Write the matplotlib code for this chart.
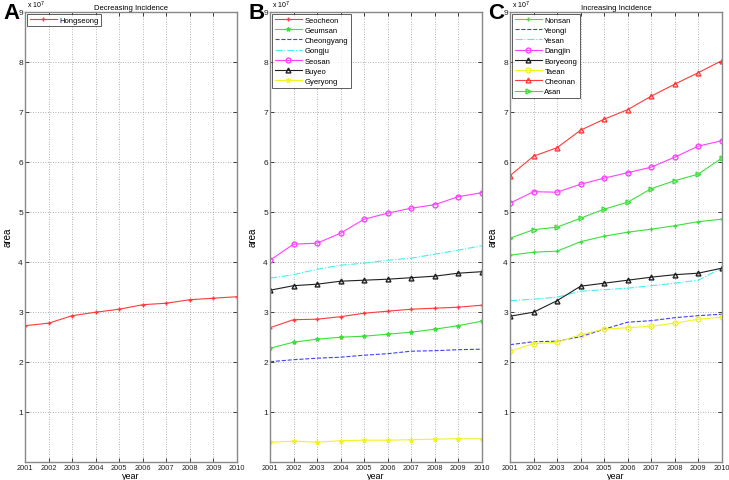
import matplotlib
matplotlib.use("Agg")
import matplotlib.pyplot as plt
import numpy as np

plt.rcParams['font.family'] = ['Liberation Sans', 'DejaVu Sans']

years = [2001, 2002, 2003, 2004, 2005, 2006, 2007, 2008, 2009, 2010]

# values in units of 1e7
hongseong = [2.72, 2.77, 2.92, 2.99, 3.05, 3.14, 3.17, 3.24, 3.27, 3.30]

seocheon = [2.68, 2.84, 2.85, 2.90, 2.97, 3.01, 3.05, 3.07, 3.09, 3.13]
geumsan = [2.27, 2.39, 2.45, 2.49, 2.51, 2.55, 2.59, 2.65, 2.72, 2.81]
cheongyang = [2.00, 2.04, 2.07, 2.09, 2.13, 2.16, 2.21, 2.22, 2.24, 2.25]
gongju = [3.67, 3.74, 3.85, 3.93, 3.97, 4.03, 4.07, 4.15, 4.23, 4.32]
seosan = [4.03, 4.35, 4.37, 4.57, 4.85, 4.97, 5.07, 5.14, 5.30, 5.38]
buyeo = [3.43, 3.52, 3.55, 3.61, 3.63, 3.65, 3.68, 3.71, 3.77, 3.80]
gyeryong = [0.39, 0.41, 0.39, 0.42, 0.43, 0.43, 0.44, 0.45, 0.46, 0.46]

nonsan = [4.13, 4.19, 4.21, 4.40, 4.51, 4.59, 4.65, 4.72, 4.80, 4.85]
yeongi = [2.34, 2.40, 2.41, 2.50, 2.65, 2.79, 2.82, 2.88, 2.92, 2.95]
yesan = [3.22, 3.25, 3.29, 3.41, 3.44, 3.47, 3.52, 3.57, 3.63, 3.87]
dangjin = [5.17, 5.40, 5.39, 5.55, 5.67, 5.78, 5.89, 6.09, 6.31, 6.42]
boryeong = [2.91, 2.99, 3.22, 3.51, 3.57, 3.63, 3.69, 3.74, 3.77, 3.87]
taean = [2.21, 2.36, 2.39, 2.54, 2.65, 2.68, 2.71, 2.77, 2.85, 2.89]
cheonan = [5.72, 6.11, 6.28, 6.63, 6.85, 7.04, 7.31, 7.55, 7.78, 8.02]
asan = [4.47, 4.64, 4.69, 4.87, 5.05, 5.19, 5.46, 5.62, 5.75, 6.07]

yticks = [1, 2, 3, 4, 5, 6, 7, 8, 9]

fig = plt.figure(figsize=(7.29, 4.81), dpi=100)

W, H = 729, 481
def ax_at(l, r, t, b):
    return fig.add_axes([l / W, (H - b) / H, (r - l) / W, (b - t) / H])

axA = ax_at(25, 237, 12.7, 462.7)
axB = ax_at(270, 481.7, 12.7, 462.7)
axC = ax_at(510, 721.7, 12.7, 462.7)

R, G, B_, C, M, K, Y = '#ff3b3b', '#3be03b', '#4040ff', '#40f0f0', '#ff40ff', '#202020', '#f2f22a'
lw = 0.8
ms = 3.5

def style(ax, letter, title=None):
    ax.set_xlim(2001, 2010)
    ax.set_ylim(0, 9)
    ax.set_xticks(years)
    ax.set_xticklabels([str(y) for y in years], fontsize=5.3,
                       family=['Liberation Sans Narrow', 'Liberation Sans'])
    ax.set_yticks(yticks)
    ax.set_yticklabels([str(v) for v in yticks], fontsize=6)
    ax.tick_params(direction='in', length=3, width=0.6, pad=1.5, colors='#222222', top=True, right=True)
    ax.grid(True, linestyle=(0, (1, 2)), color='#999999', linewidth=0.6)
    for s in ax.spines.values():
        s.set_color('#888888')
        s.set_linewidth(1.0)
    ax.set_xlabel('year', fontsize=6.5, labelpad=0)
    ax.set_ylabel('area', fontsize=7, labelpad=4)
    ax.text(0.01, 1.003, r'x 10$^7$', transform=ax.transAxes, fontsize=5, ha='left', va='bottom')
    bb = ax.get_position()
    fig.text(bb.x0 - 22 / W, 1 - 19 / H, letter, fontsize=16, fontweight='bold', ha='left', va='baseline')
    if title:
        ax.set_title(title, fontsize=5.5, pad=2)

# Panel A
axA.plot(years, hongseong, color=R, lw=lw, marker='+', ms=ms, label='Hongseong')
style(axA, 'A', 'Decreasing Incidence')

# Panel B
axB.plot(years, seocheon, color=R, lw=lw, marker='+', ms=ms, label='Seocheon')
axB.plot(years, geumsan, color=G, lw=lw, marker='*', ms=3, label='Geumsan')
axB.plot(years, cheongyang, color=B_, lw=lw, ls='--', label='Cheongyang')
axB.plot(years, gongju, color=C, lw=lw, ls='-.', label='Gongju')
axB.plot(years, seosan, color=M, lw=lw, marker='o', ms=ms, mfc='none', label='Seosan')
axB.plot(years, buyeo, color=K, lw=lw, marker='^', ms=ms, mfc='none', label='Buyeo')
axB.plot(years, gyeryong, color=Y, lw=lw, marker='*', ms=ms, label='Gyeryong')
style(axB, 'B')

# Panel C
axC.plot(years, nonsan, color=G, lw=lw, marker='+', ms=ms, label='Nonsan')
axC.plot(years, yeongi, color=B_, lw=lw, ls='--', label='Yeongi')
axC.plot(years, yesan, color=C, lw=lw, ls='-.', label='Yesan')
axC.plot(years, dangjin, color=M, lw=lw, marker='o', ms=ms, mfc='none', label='Dangjin')
axC.plot(years, boryeong, color=K, lw=lw, marker='^', ms=ms, mfc='none', label='Boryeong')
axC.plot(years, taean, color=Y, lw=lw, marker='o', ms=ms, mfc='none', label='Taean')
axC.plot(years, cheonan, color=R, lw=lw, marker='^', ms=ms, mfc='none', label='Cheonan')
axC.plot(years, asan, color=G, lw=lw, marker='>', ms=ms, mfc='none', label='Asan')
style(axC, 'C', 'Increasing Incidence')

for ax in (axA, axB, axC):
    leg = ax.legend(loc='upper left', fontsize=5.5, frameon=True, fancybox=False,
                    borderpad=0.35, labelspacing=0.38, handlelength=3.6, handletextpad=0.3,
                    borderaxespad=0.25)
    leg.get_frame().set_edgecolor('#333333')
    leg.get_frame().set_linewidth(0.7)

fig.savefig('out.png', dpi=100)
